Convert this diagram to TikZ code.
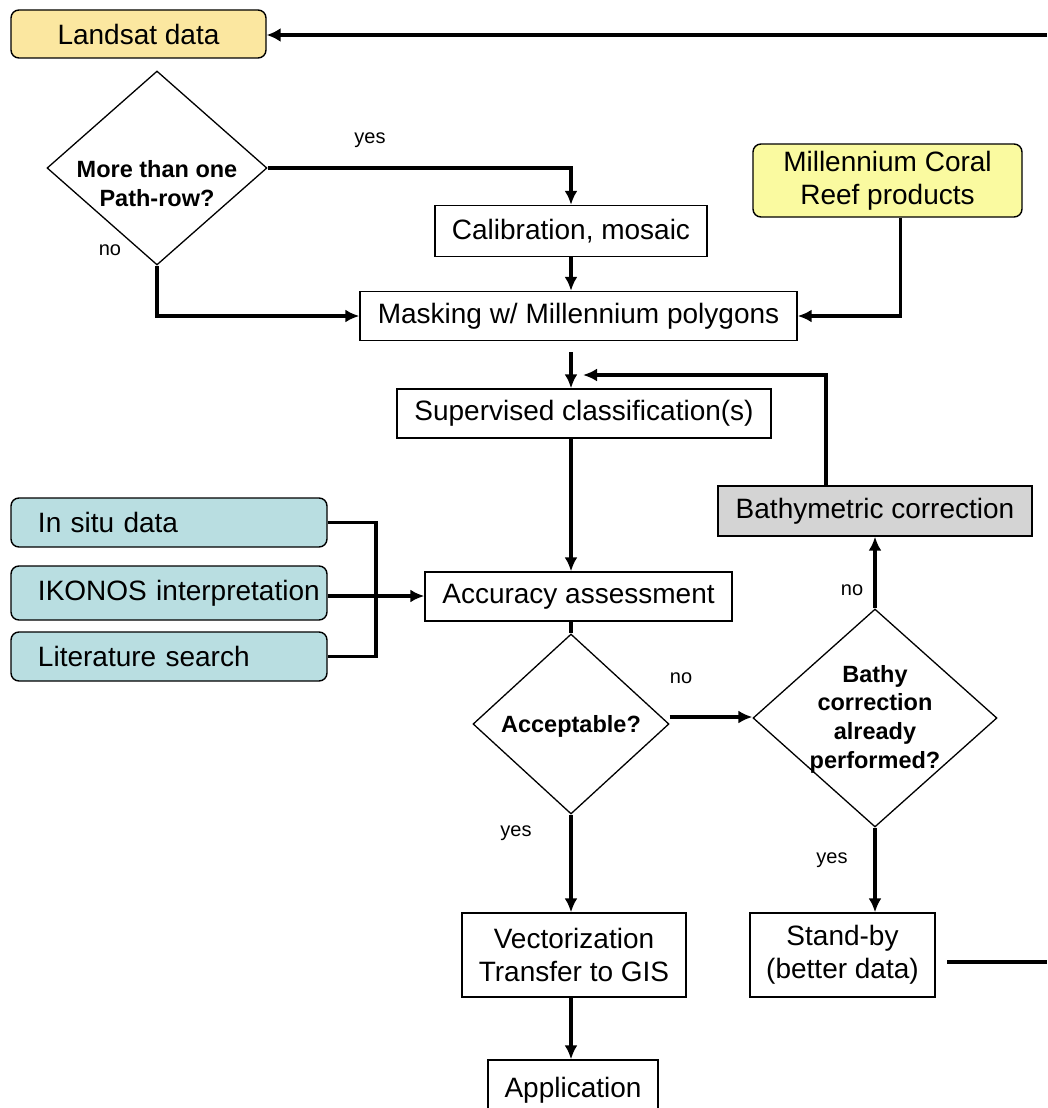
\documentclass[tikz,border=0pt]{standalone}
\usepackage{fontspec}
\setmainfont{Liberation Sans}
\usetikzlibrary{arrows.meta,shapes.geometric}
\definecolor{landsatfill}{RGB}{251,231,160}
\definecolor{mcrfill}{RGB}{250,250,160}
\definecolor{tealfill}{RGB}{185,222,225}
\definecolor{grayfill}{RGB}{212,212,212}
\begin{document}
\begin{tikzpicture}[x=1pt,y=-1pt,
  box/.style={draw, line width=1.4pt, fill=white, inner sep=0pt, align=center,
    font=\fontsize{28}{33}\selectfont},
  rbox/.style={box, rounded corners=8pt},
  tbox/.style={rbox, fill=tealfill, minimum width=316pt, text width=310pt, align=left},
  dia/.style={draw, diamond, line width=1.3pt, fill=white, inner sep=0pt},
  dtext/.style={font=\bfseries\fontsize{23.5}{29}\selectfont, align=center, inner sep=0pt},
  lab/.style={font=\fontsize{20}{24}\selectfont, inner sep=0pt},
  conn/.style={line width=3.4pt},
  arr/.style={conn, -{Latex[length=14pt,width=13pt]}},
  bigarr/.style={line width=4.5pt, -{Latex[length=14pt,width=14pt]}}
]
\useasboundingbox (0,0) rectangle (1047,1108);
\begin{scope}
\clip (0,0) rectangle (1047,1108);
% nodes
\node[rbox, fill=landsatfill, minimum width=255pt, minimum height=48pt] (landsat) at (138.5,34) {Landsat data};
\node[dia, minimum width=220pt, minimum height=194pt] (d1) at (157,168) {};
\node[dtext] (d1t) at (157,184) {More than one\\Path-row?};
\node[box, minimum width=272pt, minimum height=51pt] (cal) at (571,231) {Calibration, mosaic};
\node[rbox, fill=mcrfill, minimum width=269pt, minimum height=73pt] (mcr) at (887.5,180.5) {Millennium Coral\\Reef products};
\node[box, minimum width=437pt, minimum height=49pt] (mask) at (578.5,316) {Masking w/ Millennium polygons};
\node[box, minimum width=374pt, minimum height=49pt] (sup) at (584,413.5) {Supervised classification(s)};
\node[box, fill=grayfill, minimum width=314pt, minimum height=50pt] (bathy) at (875,511) {Bathymetric correction};
\node[box, minimum width=307pt, minimum height=49pt] (acc) at (578.5,596.5) {Accuracy assessment};
\node[tbox, minimum height=49pt] (insitu) at (169,522.5) {\hspace*{24pt}In situ data};
\node[tbox, minimum height=54pt] (ikonos) at (169,593) {\hspace*{24pt}IKONOS interpretation};
\node[tbox, minimum height=49pt] (lit) at (169,656.5) {\hspace*{24pt}Literature search};
\node[dia, minimum width=196pt, minimum height=180pt] (d2) at (571,724) {};
\node[dtext] (d2t) at (571,726) {Acceptable?};
\node[dia, minimum width=244pt, minimum height=218pt] (d3) at (875,718) {};
\node[dtext, font=\bfseries\fontsize{23.5}{28.7}\selectfont] (d3t) at (875,719) {Bathy\\correction\\already\\performed?};
\node[box, minimum width=224pt, minimum height=84pt] (vec) at (574,955) {Vectorization\\Transfer to GIS};
\node[box, minimum width=185pt, minimum height=84pt] (stand) at (842.5,955) {Stand-by\\(better data)};
\node[box, minimum width=170pt, minimum height=60pt] (app) at (573,1090) {Application};
% labels
\node[lab] (l1) at (370,140) {yes};
\node[lab] (l2) at (110,250) {no};
\node[lab] (l3) at (681,678) {no};
\node[lab] (l4) at (516,833) {yes};
\node[lab] (l5) at (852,590) {no};
\node[lab] (l6) at (832,860) {yes};
% coordinates
\coordinate (fb) at (1047,35);
\coordinate (m1) at (571,352);
\coordinate (ret) at (583,375);
\coordinate (j) at (376,596);
\coordinate (s1) at (947,962);
\coordinate (s2) at (1047,962);
% connectors
\draw[bigarr] (fb) -- (landsat.east |- fb);
\draw[arr] (d1.east) -| (cal.north);
\draw[arr] (d1.south) |- (mask.west);
\draw[arr] (cal.south) -- (cal.south |- mask.north);
\draw[arr] ([xshift=13pt]mcr.south) |- (mask.east);
\draw[arr] (m1) -- (m1 |- sup.north);
\draw[arr] ([xshift=-49pt]bathy.north) |- (ret);
\draw[arr] (sup.south -| m1) -- (acc.north -| m1);
\draw[conn] (insitu.east) -| (j) |- (lit.east);
\draw[arr] (ikonos.east |- j) -- (acc.west |- j);
\draw[conn] (acc.south -| m1) -- (d2.north);
\draw[arr] (d2.east |- 0,717) -- (d3.west |- 0,717);
\draw[arr] (d3.north) -- (bathy.south);
\draw[arr] (d3.south) -- (d3.south |- stand.north);
\draw[arr] (d2.south) -- (d2.south |- vec.north);
\draw[arr] (vec.south -| m1) -- (app.north -| m1);
\draw[conn] (s1) -- (s2);
\end{scope}
\end{tikzpicture}
\end{document}
